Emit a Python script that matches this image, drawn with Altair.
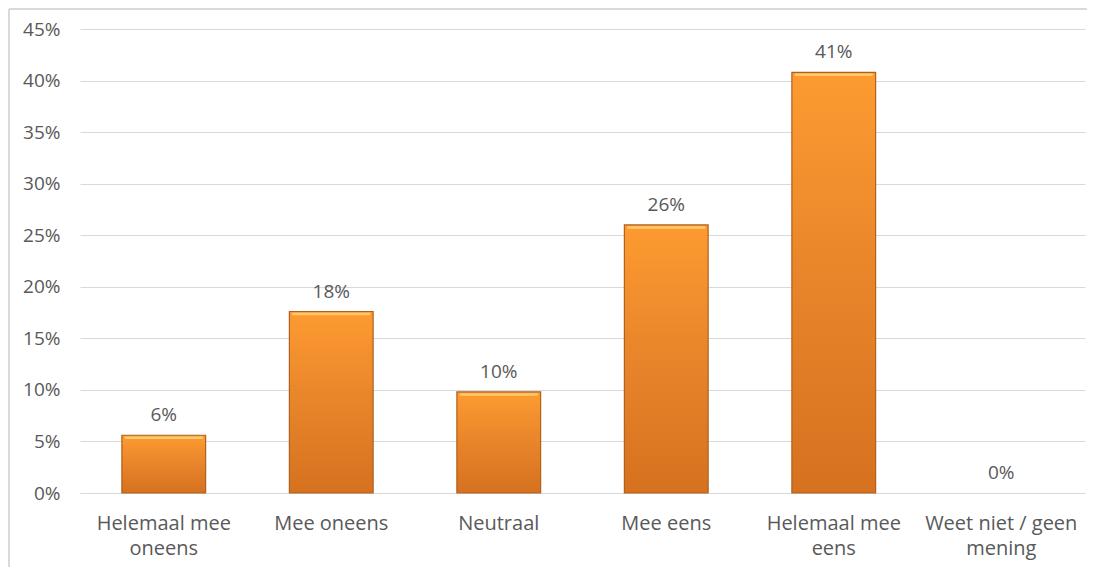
import altair as alt
import pandas as pd

categories = ["Helemaal mee oneens", "Mee oneens", "Neutraal", "Mee eens",
              "Helemaal mee eens", "Weet niet / geen mening"]
values = [0.056, 0.176, 0.098, 0.260, 0.408, 0.0]
label_lines = [["Helemaal mee", "oneens"], ["Mee oneens"], ["Neutraal"], ["Mee eens"],
               ["Helemaal mee", "eens"], ["Weet niet / geen", "mening"]]

df = pd.DataFrame({"cat": categories, "val": values})

expr_parts = []
for c, lines in zip(categories, label_lines):
    arr = "[" + ",".join("'" + l + "'" for l in lines) + "]"
    expr_parts.append(f"datum.value == '{c}' ? {arr} : ")
label_expr = "".join(expr_parts) + "datum.value"

FONT = "Open Sans"
TXT = "#595959"

x = alt.X("cat:N", sort=categories, title=None,
          scale=alt.Scale(paddingInner=0.5, paddingOuter=0.25),
          axis=alt.Axis(labelAngle=0, labelExpr=label_expr, labelFontSize=20,
                        labelColor=TXT, labelFont=FONT, ticks=False,
                        domainColor="#d9d9d9", labelPadding=20, labelLineHeight=25,
                        labelBaseline="top"))
y = alt.Y("val:Q", title=None,
          scale=alt.Scale(domain=[0, 0.45]),
          axis=alt.Axis(format=".0%", values=[i * 0.05 for i in range(10)],
                        labelFontSize=19, labelColor=TXT, labelFont=FONT,
                        ticks=False, domain=False, gridColor="#d9d9d9",
                        labelPadding=20))

gradient = alt.Gradient(
    gradient="linear", x1=1, y1=1, x2=1, y2=0,
    stops=[alt.GradientStop(color="#d6721f", offset=0),
           alt.GradientStop(color="#e8842a", offset=0.5),
           alt.GradientStop(color="#fd9b31", offset=1)])

base = alt.Chart(df).transform_filter("datum.val > 0")

bars = base.mark_bar(color=gradient, stroke="#b0601c", strokeWidth=1.2).encode(x=x, y=y)

highlight = base.mark_tick(color="#ffd27a", thickness=2.5, size=78, yOffset=2.5,
                           opacity=0.85).encode(
    x=alt.X("cat:N", sort=categories), y="val:Q")

text = alt.Chart(df).mark_text(dy=-10, baseline="bottom", fontSize=19, font=FONT,
                               color=TXT).encode(
    x=alt.X("cat:N", sort=categories),
    y="val:Q",
    text=alt.Text("val:Q", format=".0%"))

border_left = alt.Chart(df).mark_rule(color="#d9d9d9", strokeWidth=2).encode(
    x=alt.value(-71), y=alt.value(-20), y2=alt.value(600))
border_top = alt.Chart(df).mark_rule(color="#d9d9d9", strokeWidth=2).encode(
    x=alt.value(-71), x2=alt.value(1030), y=alt.value(-20))

chart = alt.layer(bars, highlight, text, border_left, border_top).properties(
    width=1005, height=464,
    padding={"left": 72, "top": 21, "right": 2, "bottom": 90},
    autosize=alt.AutoSizeParams(type="none"),
).configure_view(stroke=None)

chart.save("out.html", embed_options={"renderer": "svg", "actions": False})
